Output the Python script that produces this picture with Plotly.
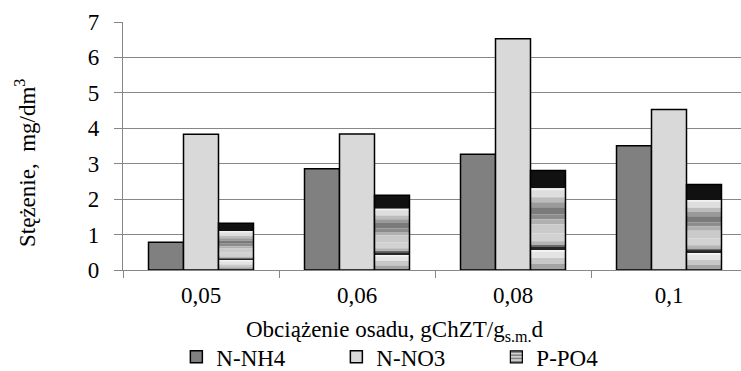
import plotly.graph_objects as go

# ---- data ----
categories = ["0,05", "0,06", "0,08", "0,1"]
n_nh4 = [0.78, 2.86, 3.27, 3.51]
n_no3 = [3.83, 3.84, 6.53, 4.53]
p_po4 = [1.32, 2.11, 2.81, 2.41]
series_names = ["N-NH4", "N-NO3", "P-PO4"]
y_ticks = [0, 1, 2, 3, 4, 5, 6, 7]

# ---- style: gradient texture of the P-PO4 bars (fractions measured from bar top) ----
band_edges = [0.0, 0.18, 0.20, 0.27, 0.32, 0.37, 0.44, 0.49, 0.54, 0.63, 0.71,
              0.75, 0.77, 0.80, 0.82, 0.88, 0.94, 1.0]
band_colors = ["#111111", "#f2f2f2", "#dedede", "#bcbcbc", "#9a9a9a", "#7a7a7a",
               "#8c8c8c", "#b0b0b0", "#cacaca", "#d2d2d2", "#b4b4b4", "#6a6a6a",
               "#262626", "#f4f4f4", "#e4e4e4", "#c8c8c8", "#a4a4a4"]

FONT = "Liberation Serif"
FS = 23
GRID = "#878787"

fig = go.Figure()
fig.add_trace(go.Bar(x=categories, y=n_nh4, name=series_names[0], offsetgroup="a",
                     marker=dict(color="#808080", line=dict(color="#000000", width=1.5))))
fig.add_trace(go.Bar(x=categories, y=n_no3, name=series_names[1], offsetgroup="b",
                     marker=dict(color="#d9d9d9", line=dict(color="#000000", width=1.5))))

for i, col in enumerate(band_colors):
    t0, t1 = band_edges[i], band_edges[i + 1]
    fig.add_trace(go.Bar(x=categories, y=[v * (t1 - t0) for v in p_po4],
                         base=[v * (1 - t1) for v in p_po4], offsetgroup="c",
                         marker=dict(color=col, line=dict(width=0)),
                         showlegend=False, hoverinfo="skip"))
# outline of the P-PO4 bars
fig.add_trace(go.Bar(x=categories, y=p_po4, offsetgroup="c", showlegend=False,
                     marker=dict(color="rgba(0,0,0,0)", line=dict(color="#000000", width=1.5)),
                     name=series_names[2]))
# legend entry for P-PO4
fig.add_trace(go.Bar(x=categories, y=[None] * len(categories), name=series_names[2],
                     offsetgroup="c", showlegend=True,
                     marker=dict(color="#d0d0d0", line=dict(color="#000000", width=1.2),
                                 pattern=dict(shape="-", fgcolor="#222222", size=4, solidity=0.45))))

fig.update_layout(
    width=741, height=371,
    margin=dict(l=123, r=0, t=22, b=101),
    paper_bgcolor="white", plot_bgcolor="white",
    barmode="group", bargap=0.327, bargroupgap=0,
    font=dict(family=FONT, size=FS, color="#000000"),
    showlegend=True,
    legend=dict(orientation="h", xref="container", yref="container",
                x=0.238, xanchor="left", y=0.038, yanchor="middle",
                font=dict(family=FONT, size=FS), entrywidth=115, entrywidthmode="pixels",
                itemwidth=30, tracegroupgap=0, bgcolor="rgba(0,0,0,0)"),
    xaxis=dict(type="category", range=[-0.5, -0.5 + 618 / 156],
               showgrid=False, showline=True, linecolor=GRID, linewidth=1.3,
               ticks="outside", tickson="boundaries", ticklen=7, tickcolor=GRID, tickwidth=1.3,
               tickfont=dict(family=FONT, size=FS), ticklabelstandoff=4),
    yaxis=dict(range=[0, 7], tickvals=y_ticks, showgrid=True, gridcolor=GRID, gridwidth=1.3,
               showline=True, linecolor=GRID, linewidth=1.3, zeroline=False,
               ticks="outside", ticklen=8, tickcolor=GRID, tickwidth=1.3,
               tickfont=dict(family=FONT, size=FS), ticklabelstandoff=10),
    annotations=[
        dict(text="Obciążenie osadu, gChZT/g<sub>s.m.</sub>d", xref="paper", yref="paper",
             x=(395 - 123) / 618, y=(270 - 331) / 248, xanchor="center", yanchor="middle",
             showarrow=False, font=dict(family=FONT, size=FS)),
        dict(text="Stężenie,\u00a0 mg/dm<sup>3</sup>", xref="paper", yref="paper",
             x=(25 - 123) / 618, y=(270 - 163) / 248, xanchor="center", yanchor="middle",
             textangle=-90, showarrow=False, font=dict(family=FONT, size=FS)),
    ],
)

fig.write_html("out.html")
